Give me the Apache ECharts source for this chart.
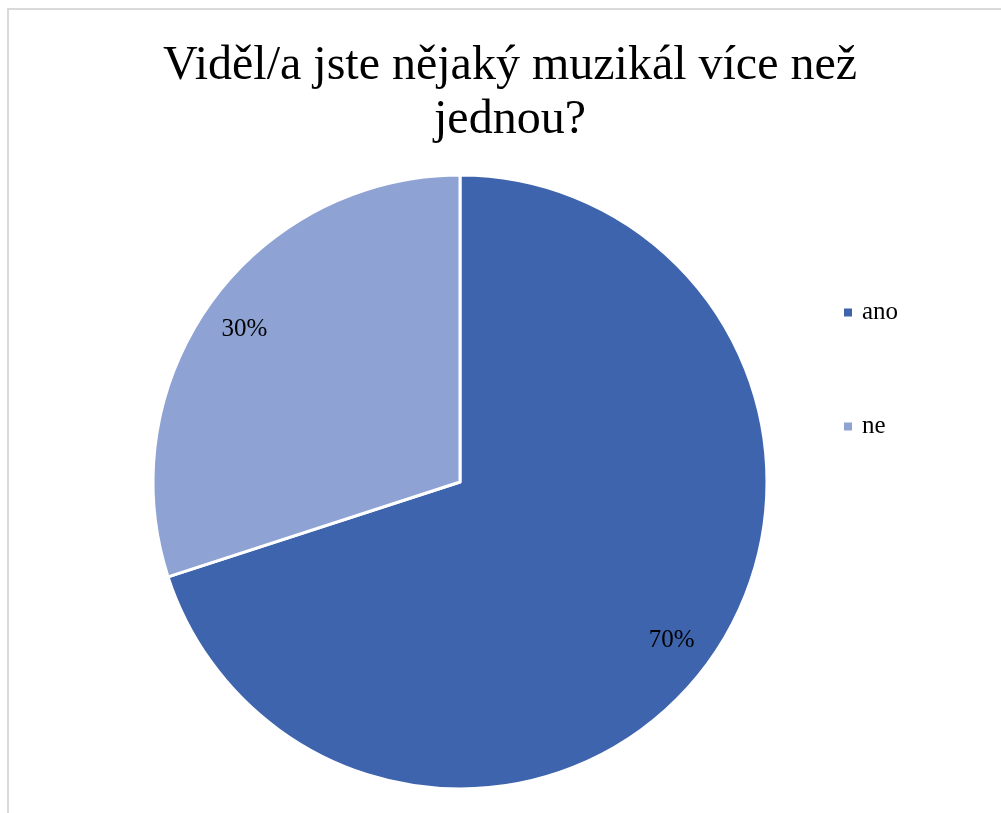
<!DOCTYPE html>
<html>
<head>
<meta charset="utf-8">
<script src="https://cdn.jsdelivr.net/npm/echarts@6/dist/echarts.min.js"></script>
<style>
html,body{margin:0;padding:0;background:#fff;overflow:hidden;}
#frame{position:absolute;left:7px;top:8px;width:1100px;height:900px;border:2px solid #d9d9d9;box-sizing:border-box;}
#chart{position:absolute;left:0;top:0;width:1001px;height:813px;}
</style>
</head>
<body>
<div id="frame"></div>
<div id="chart"></div>
<script>
const titleText = 'Viděl/a jste nějaký muzikál více než\njednou?';
const categories = ['ano', 'ne'];
const values = [70, 30];
const colors = ['#3E64AD', '#8EA3D4'];

const data = categories.map((c, i) => ({ name: c, value: values[i], itemStyle: { color: colors[i] } }));
const labelData = categories.map((c, i) => ({ name: c, value: values[i] }));

const chart = echarts.init(document.getElementById('chart'), null, { renderer: 'canvas' });
chart.setOption({
  animation: false,
  backgroundColor: 'transparent',
  title: {
    text: titleText,
    left: 510,
    top: 39,
    padding: 0,
    textAlign: 'center',
    textStyle: { fontFamily: 'Liberation Serif', fontSize: 48, fontWeight: 'normal', color: '#000', lineHeight: 54 }
  },
  legend: {
    orient: 'vertical',
    left: 842,
    top: 300,
    padding: 0,
    itemWidth: 10,
    itemHeight: 10,
    itemGap: 89,
    icon: 'rect',
    data: categories,
    textStyle: { fontFamily: 'Liberation Serif', fontSize: 25, color: '#000', lineHeight: 25, padding: [0, 0, 0, 4] }
  },
  series: [
    {
      type: 'pie',
      center: [460, 482],
      radius: [0, 307],
      startAngle: 90,
      clockwise: true,
      data: data,
      itemStyle: { borderColor: '#fff', borderWidth: 3 },
      label: { show: false },
      labelLine: { show: false },
      silent: true
    },
    {
      type: 'pie',
      center: [460, 482],
      radius: [215, 307],
      startAngle: 90,
      clockwise: true,
      data: labelData,
      itemStyle: { color: 'transparent', borderWidth: 0 },
      label: {
        show: true,
        position: 'inside',
        formatter: p => p.value + '%',
        fontFamily: 'Liberation Serif',
        fontSize: 25,
        color: '#000',
        offset: [-2, 3]
      },
      labelLine: { show: false },
      legendHoverLink: false,
      silent: true
    }
  ]
});
</script>
</body>
</html>
